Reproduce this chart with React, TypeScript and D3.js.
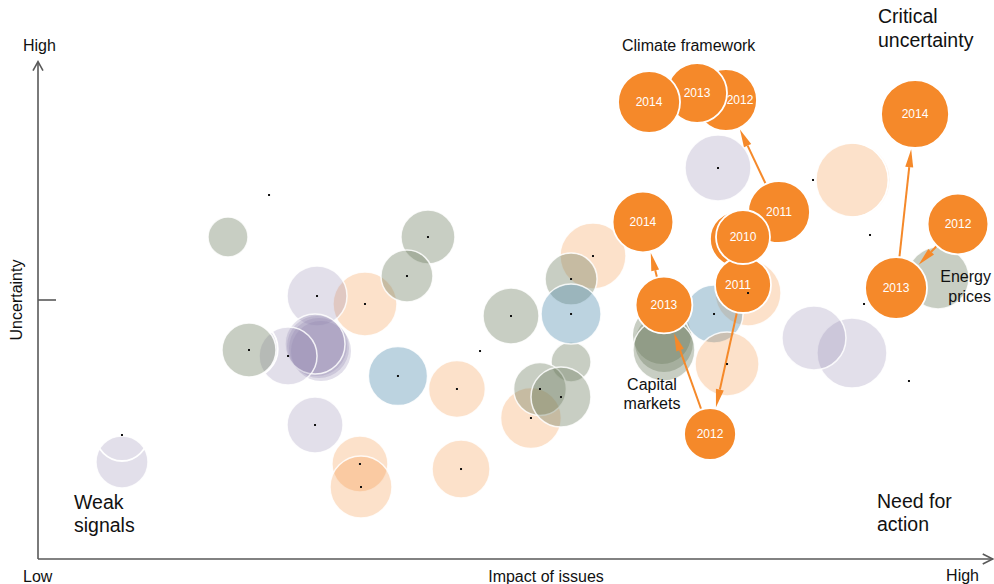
import React from 'react';
import * as d3 from 'd3';

// ---------- data (impact 0-100, uncertainty 0-100, bubble size 0-100) ----------
// background issues, in drawing order: [impact, uncertainty, size, kind]
// kind: o = light orange, p = lavender, g = grey-green, b = blue (upper case: stacked repeat, no outline)
const peachIssues: [number, number, number, string][] = [
  [34.42, 49.23, 80, 'o'], [33.89, 18.34, 70, 'o'], [34.0, 13.9, 77.5, 'o'],
  [44.1, 32.82, 71, 'o'], [44.53, 17.37, 72.5, 'o'], [51.89, 27.22, 76, 'o'],
  [58.42, 58.49, 82.5, 'o'], [74.74, 51.35, 82.5, 'o'], [85.79, 73.17, 92.5, 'o'],
];
const lavenderIssues: [number, number, number, string][] = [
  [8.84, 18.73, 65, 'p'], [29.37, 50.77, 75, 'p'],
  [29.79, 40.15, 75, 'P'], [29.58, 40.73, 75, 'P'], [29.37, 41.12, 75, 'P'], [29.16, 41.51, 75, 'p'],
  [26.32, 39.19, 72.5, 'p'], [29.16, 25.87, 70, 'p'], [71.58, 75.48, 82.5, 'p'],
  [85.68, 39.77, 87.5, 'p'], [81.68, 42.66, 80, 'p'],
];
const greenIssues: [number, number, number, string][] = [
  [20.0, 62.16, 50, 'g'], [22.21, 40.35, 67.5, 'g'], [49.79, 46.91, 70, 'g'],
  [41.05, 62.16, 67.5, 'g'], [38.84, 54.63, 65, 'g'], [56.11, 54.05, 65, 'g'],
  [56.11, 38.03, 50, 'g'], [52.84, 32.82, 66, 'g'], [55.05, 31.27, 75, 'g'],
  [65.68, 43.24, 72.5, 'G'], [65.89, 41.7, 72.5, 'G'], [65.89, 40.35, 77.5, 'g'],
  [94.74, 54.25, 77.5, 'g'],
];
const blueIssues: [number, number, number, string][] = [
  [37.89, 35.33, 74, 'b'], [56.11, 47.3, 75, 'b'], [71.16, 47.3, 72.5, 'b'],
];
const lateIssues: [number, number, number, string][] = [
  [72.53, 37.64, 80, 'o'],
];
// outlines of earlier positions (no fill)
const ghostIssues: [number, number, number][] = [
  [8.84, 23.94, 65], [22.21, 40.54, 72], [85.58, 73.17, 93.5],
];

// highlighted issues: [issue, year, impact, uncertainty, size] in drawing order
const trackedIssues: [string, string, number, number, number][] = [
  ['climate', '2011', 78.0, 66.99, 77.5],
  ['climate', '', 73.68, 61.78, 70],
  ['capital', '2011', 74.21, 52.9, 70],
  ['climate', '2010', 74.21, 62.16, 67.5],
  ['climate', '2012', 72.42, 88.61, 77.5],
  ['climate', '2013', 69.37, 89.96, 75],
  ['climate', '2014', 64.32, 88.22, 77.5],
  ['capital', '2012', 70.74, 24.13, 65],
  ['capital', '2013', 65.89, 49.03, 71],
  ['capital', '2014', 63.68, 65.06, 76],
  ['energy', '2012', 96.84, 64.67, 76],
  ['energy', '2013', 90.32, 52.32, 77.5],
  ['energy', '2014', 92.32, 85.91, 85],
];
const transitions: [string, string, string][] = [
  ['climate', '2010', '2011'], ['climate', '2011', '2012'], ['climate', '2012', '2013'], ['climate', '2013', '2014'],
  ['capital', '2011', '2012'], ['capital', '2012', '2013'], ['capital', '2013', '2014'],
  ['energy', '2012', '2013'], ['energy', '2013', '2014'],
];

// data points
const dots: [number, number][] = [
  [8.84, 23.94], [24.32, 70.27], [29.37, 50.77], [34.42, 49.23], [22.21, 40.35], [26.32, 39.19],
  [29.16, 25.87], [33.89, 18.34], [34.0, 13.9], [37.89, 35.33], [44.1, 32.82], [44.53, 17.37],
  [46.53, 40.15], [49.79, 46.91], [56.11, 47.3], [56.11, 54.05], [58.42, 58.49], [52.84, 32.82],
  [55.05, 31.27], [51.89, 27.22], [41.05, 62.16], [38.84, 54.63], [71.58, 75.48], [74.74, 51.35],
  [71.16, 47.3], [72.53, 37.64], [81.58, 73.17], [87.58, 62.55], [86.95, 49.23], [91.68, 34.36],
];

// ---------- styles ----------
const W = 994;
const H = 584;
const ORANGE = '#F5892A';
const FONT = '"Liberation Sans", Arial, Helvetica, sans-serif';
const kindStyle: Record<string, { fill: string; op: number }> = {
  o: { fill: ORANGE, op: 0.25 },
  p: { fill: '#8A80AA', op: 0.25 },
  g: { fill: '#6E7F62', op: 0.38 },
  b: { fill: '#5891B1', op: 0.4 },
};
const labelShift: Record<string, number> = { 'climate-2012': 14, 'capital-2011': -5 };

const x = d3.scaleLinear().domain([0, 100]).range([38, 988]);
const y = d3.scaleLinear().domain([0, 100]).range([559, 41]);
const r = d3.scaleLinear().domain([0, 100]).range([0, 40]);

export default function App() {
  const background = [...peachIssues, ...lavenderIssues, ...greenIssues, ...blueIssues, ...lateIssues];
  const find = (issue: string, year: string) => trackedIssues.find((t) => t[0] === issue && t[1] === year)!;

  const arrows = transitions.map(([issue, a, b], i) => {
    const s = find(issue, a);
    const t = find(issue, b);
    const sx = x(s[2]), sy = y(s[3]);
    const tx = x(t[2]), ty = y(t[3]);
    const dx = sx - tx, dy = sy - ty;
    const d = Math.hypot(dx, dy);
    const ux = dx / d, uy = dy / d;
    const rt = r(t[4]) + 1.5;
    const tipX = tx + ux * rt, tipY = ty + uy * rt;
    const len = 18, hw = 4;
    const bx = tipX + ux * len, by = tipY + uy * len;
    const px = -uy, py = ux;
    const head = `${tipX},${tipY} ${bx + px * hw},${by + py * hw} ${bx - px * hw},${by - py * hw}`;
    return (
      <g key={'a' + i}>
        <line x1={sx} y1={sy} x2={bx} y2={by} stroke={ORANGE} strokeWidth={2} />
        <polygon points={head} fill={ORANGE} />
      </g>
    );
  });

  const yTop = y(96);
  const xRight = x(100.5);

  return (
    <svg width={W} height={H} style={{ position: 'absolute', left: 0, top: 0, background: '#fff' }} fontFamily={FONT}>
      {/* axes */}
      <g stroke="#595959" strokeWidth={1.6} fill="none">
        <line x1={x(0)} y1={y(0)} x2={x(0)} y2={yTop} />
        <polyline points={`${x(0) - 5},${yTop + 9} ${x(0)},${yTop} ${x(0) + 5},${yTop + 9}`} />
        <line x1={x(0)} y1={y(0)} x2={xRight} y2={y(0)} />
        <polyline points={`${xRight - 10},${y(0) - 5} ${xRight},${y(0)} ${xRight - 10},${y(0) + 5}`} />
        <line x1={x(0)} y1={y(50)} x2={x(0) + 18} y2={y(50)} />
      </g>

      {/* background bubbles */}
      {background.map((d, i) => {
        const k = d[3].toLowerCase();
        const outlined = d[3] === k;
        return (
          <circle key={'b' + i} cx={x(d[0])} cy={y(d[1])} r={r(d[2])}
            fill={kindStyle[k].fill} fillOpacity={kindStyle[k].op}
            stroke={outlined ? '#fff' : 'none'} strokeOpacity={0.85} strokeWidth={1.5} />
        );
      })}
      {ghostIssues.map((d, i) => (
        <circle key={'g' + i} cx={x(d[0])} cy={y(d[1])} r={r(d[2])} fill="none" stroke="#fff" strokeWidth={1.8} />
      ))}

      {/* transitions */}
      {arrows}

      {/* tracked issues */}
      {trackedIssues.map((d, i) => (
        <circle key={'t' + i} cx={x(d[2])} cy={y(d[3])} r={r(d[4])} fill={ORANGE} stroke="#fff" strokeWidth={1.8} />
      ))}
      {trackedIssues.filter((d) => d[1]).map((d, i) => (
        <text key={'l' + i} x={x(d[2]) + (labelShift[d[0] + '-' + d[1]] || 0)} y={y(d[3])} dy="0.35em"
          textAnchor="middle" fontSize={12} fill="#fff">{d[1]}</text>
      ))}

      {/* dots */}
      {dots.map((d, i) => (
        <rect key={'d' + i} x={x(d[0]) - 1} y={y(d[1]) - 1} width={2} height={2} fill="#111" />
      ))}

      {/* axis labels */}
      <g fill="#111" fontSize={16}>
        <text x={23} y={51}>High</text>
        <text x={23} y={582}>Low</text>
        <text x={979} y={581} textAnchor="end">High</text>
        <text x={546} y={582} textAnchor="middle">Impact of issues</text>
        <text transform={`translate(22,${y(50)}) rotate(-90)`} textAnchor="middle">Uncertainty</text>
      </g>

      {/* annotations */}
      <g fill="#111">
        <text x={622} y={51} fontSize={16}>Climate framework</text>
        <text x={652} y={390} fontSize={16} textAnchor="middle">Capital</text>
        <text x={652} y={409} fontSize={16} textAnchor="middle">markets</text>
        <text x={991} y={282} fontSize={16} textAnchor="end">Energy</text>
        <text x={991} y={302} fontSize={16} textAnchor="end">prices</text>
        <text x={878} y={23} fontSize={19.5}>Critical</text>
        <text x={878} y={47} fontSize={19.5}>uncertainty</text>
        <text x={74} y={509} fontSize={19.5}>Weak</text>
        <text x={74} y={532} fontSize={19.5}>signals</text>
        <text x={877} y={508} fontSize={19.5}>Need for</text>
        <text x={877} y={531} fontSize={19.5}>action</text>
      </g>
    </svg>
  );
}
